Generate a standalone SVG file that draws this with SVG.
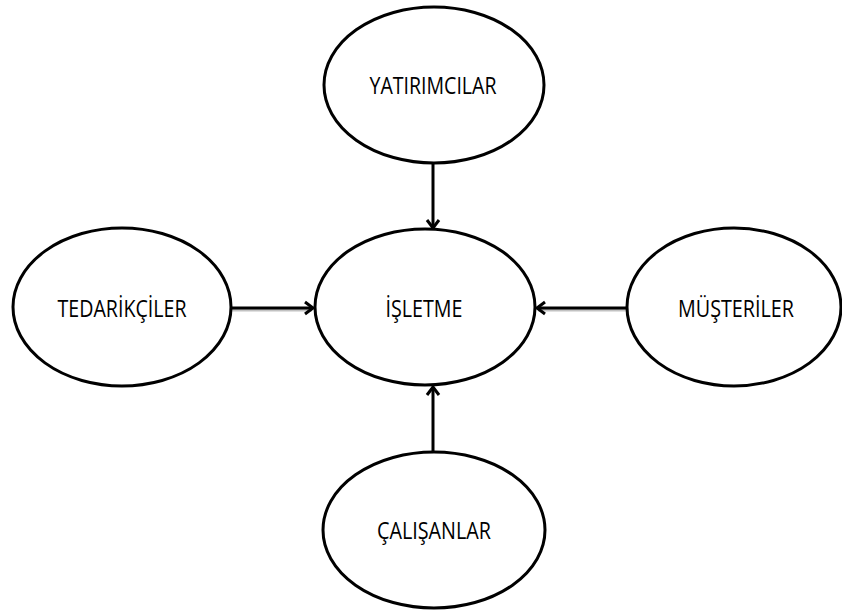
<svg xmlns="http://www.w3.org/2000/svg" width="842" height="610" viewBox="0 0 842 610">
<defs>
<style>
.node ellipse{fill:#fff;stroke:#000;stroke-width:3}
.node text{font-family:"Open Sans","Liberation Sans",sans-serif;font-size:23px;fill:#000;text-anchor:middle}
.edge{stroke:#000;stroke-width:3;fill:none;marker-end:url(#arr)}
.shadow{stroke:#999;stroke-width:3;fill:none;opacity:0.6}
</style>
<marker id="arr" markerUnits="userSpaceOnUse" markerWidth="14" markerHeight="16" refX="9" refY="7" orient="auto" viewBox="0 0 14 14">
<path d="M1,1 L9,7 L1,13" fill="none" stroke="#000" stroke-width="3"/>
</marker>
</defs>
<rect width="842" height="610" fill="#fff"/>
<g id="connectors">
<line class="shadow" x1="231" y1="310" x2="312" y2="310"/>
<line class="shadow" x1="627" y1="310" x2="538" y2="310"/>
<line class="edge" x1="433" y1="163" x2="433" y2="228"/>
<line class="edge" x1="433" y1="452" x2="433" y2="387"/>
<line class="edge" x1="231" y1="308" x2="313" y2="308"/>
<line class="edge" x1="627" y1="308" x2="537" y2="308"/>
</g>
<g id="node-yatirimcilar" class="node">
<ellipse cx="434" cy="85" rx="110" ry="78"/>
<text x="433" y="94" textLength="127" lengthAdjust="spacingAndGlyphs">YATIRIMCILAR</text>
</g>
<g id="node-tedarikciler" class="node">
<ellipse cx="122" cy="307" rx="109" ry="79"/>
<text x="122" y="317" textLength="129" lengthAdjust="spacingAndGlyphs">TEDARİKÇİLER</text>
</g>
<g id="node-isletme" class="node">
<ellipse cx="425" cy="307" rx="110" ry="78"/>
<text x="424" y="317" textLength="77" lengthAdjust="spacingAndGlyphs">İŞLETME</text>
</g>
<g id="node-musteriler" class="node">
<ellipse cx="734" cy="307" rx="107" ry="79"/>
<text x="736" y="317" textLength="116" lengthAdjust="spacingAndGlyphs">MÜŞTERİLER</text>
</g>
<g id="node-calisanlar" class="node">
<ellipse cx="434" cy="530" rx="111" ry="78"/>
<text x="434" y="539" textLength="114" lengthAdjust="spacingAndGlyphs">ÇALIŞANLAR</text>
</g>
</svg>
